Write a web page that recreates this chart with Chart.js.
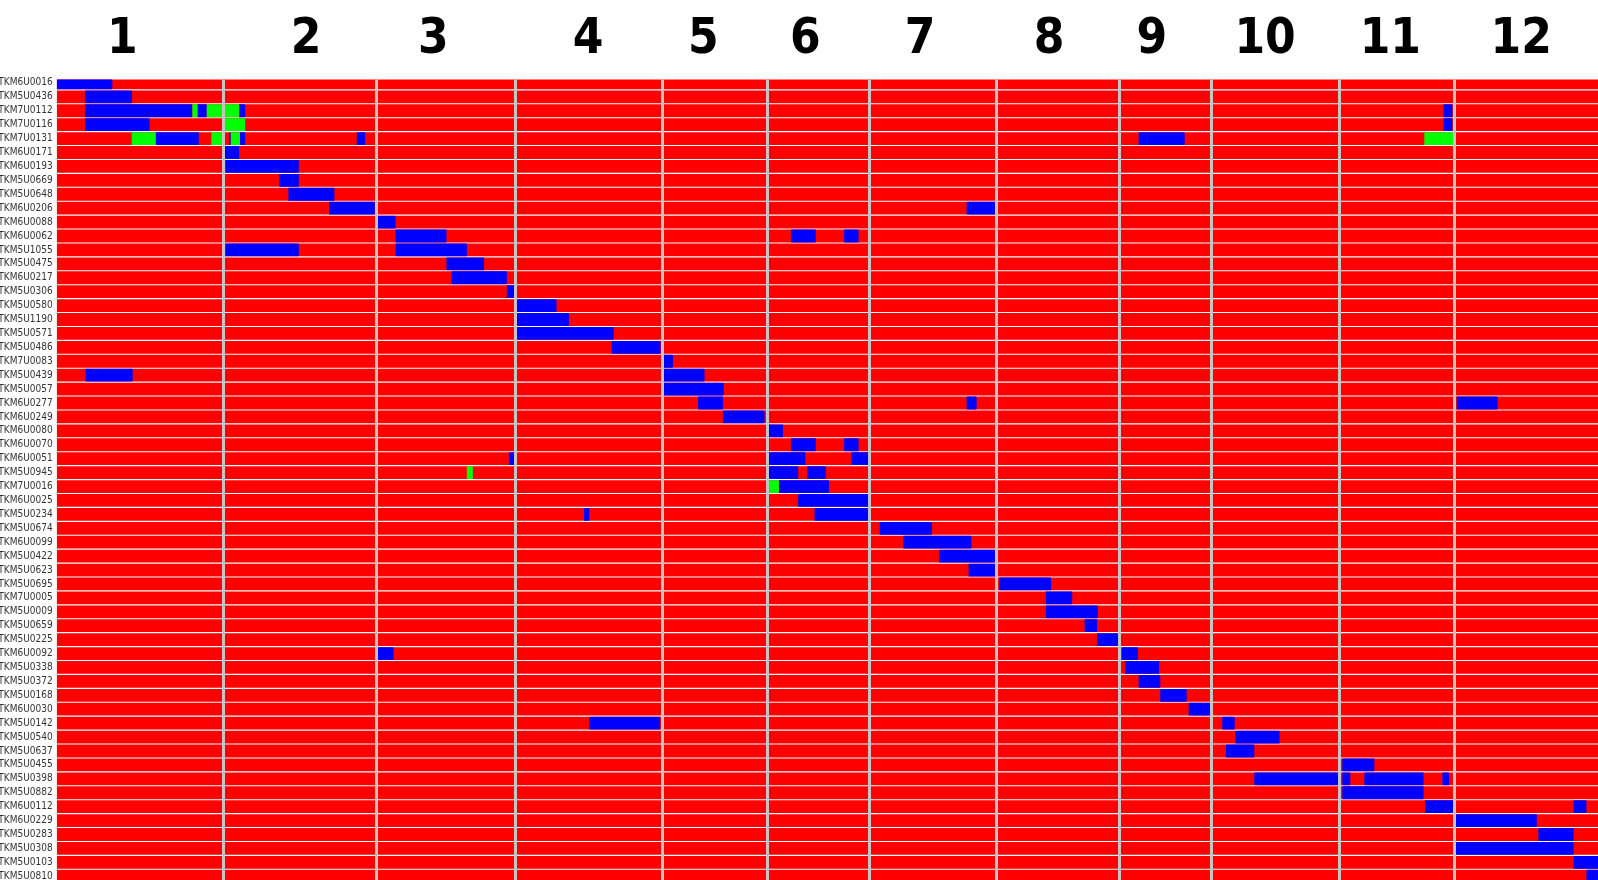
<!DOCTYPE html>
<html><head><meta charset="utf-8">
<script src="https://cdn.jsdelivr.net/npm/chart.js@4.4.1/dist/chart.umd.min.js"></script>
<style>html,body{margin:0;padding:0;background:#fff;} #wrap{width:1598px;height:880px;position:relative;}</style>
</head><body><div id="wrap"><canvas id="c"></canvas></div>
<script>
const lines = ['TKM6U0016','TKM5U0436','TKM7U0112','TKM7U0116','TKM7U0131','TKM6U0171','TKM6U0193','TKM5U0669','TKM5U0648','TKM6U0206',
'TKM6U0088','TKM6U0062','TKM5U1055','TKM5U0475','TKM6U0217','TKM5U0306','TKM5U0580','TKM5U1190','TKM5U0571','TKM5U0486',
'TKM7U0083','TKM5U0439','TKM5U0057','TKM6U0277','TKM6U0249','TKM6U0080','TKM6U0070','TKM6U0051','TKM5U0945','TKM7U0016',
'TKM6U0025','TKM5U0234','TKM5U0674','TKM6U0099','TKM5U0422','TKM5U0623','TKM5U0695','TKM7U0005','TKM5U0009','TKM5U0659',
'TKM5U0225','TKM6U0092','TKM5U0338','TKM5U0372','TKM5U0168','TKM6U0030','TKM5U0142','TKM5U0540','TKM5U0637','TKM5U0455',
'TKM5U0398','TKM5U0882','TKM6U0112','TKM6U0229','TKM5U0283','TKM5U0308','TKM5U0103','TKM5U0810'];
const chromNames = ['1','2','3','4','5','6','7','8','9','10','11','12'];
const chromLengths = [41.6, 38.2, 34.9, 36.7, 26.2, 25.5, 31.8, 30.8, 22.9, 32.1, 28.6, 35.9];
const chromLabelPos = [16.4, 62.3, 94.1, 132.8, 161.6, 187.1, 215.8, 248.0, 273.7, 302.0, 333.3, 366.0];
// [line number, start, end] on the concatenated genome axis
const blueSegments = [
[1,0,13.9],[2,7.1,18.8],
[3,7.1,33.9],[3,35.2,37.5],[3,45.6,47.1],[3,346.6,348.8],
[4,7.1,23.2],[4,346.6,348.8],
[5,24.75,35.5],[5,43.1,43.5],[5,45.8,47.1],[5,75,77.1],[5,270.4,281.9],
[6,42.0,45.6],[7,42.2,60.5],[8,55.6,60.5],[9,57.9,69.4],[10,68.1,79.5],[10,227.4,234.9],
[11,80.0,84.7],[12,84.7,97.4],[12,183.5,189.7],[12,196.8,200.4],[13,42.2,60.5],[13,84.7,102.5],
[14,97.4,106.8],[15,98.7,112.5],[16,112.5,114.5],[17,115.0,124.9],[18,115.0,128.0],[19,115.0,139.2],
[20,138.7,150.9],[21,151.6,154.0],[22,7.2,19.0],[22,151.6,161.9],[23,151.6,166.7],
[24,160.3,166.5],[24,227.4,229.9],[24,349.9,360.1],[25,166.5,176.9],[26,178.0,181.5],
[27,183.5,189.7],[27,196.8,200.4],[28,113.0,114.5],[28,178.0,187.1],[28,198.6,203.0],
[29,178.0,185.3],[29,187.6,192.2],[30,180.5,193.0],[31,185.3,203.0],[32,131.8,133.1],[32,189.4,203.0],
[33,205.7,218.7],[34,211.6,228.6],[35,220.5,234.9],[36,227.9,234.9],[37,235.6,248.5],[38,247.2,253.8],
[39,247.2,260.2],[40,256.9,260.0],[41,260.0,265.5],[42,80.2,84.2],[42,266.2,270.2],[43,267.0,275.5],
[44,270.4,275.8],[45,275.8,282.4],[46,282.9,288.4],[47,133.1,150.8],[47,291.3,294.4],[48,294.6,305.6],
[49,292.2,299.3],[50,321.3,329.3],[51,299.3,320.6],[51,321.3,323.3],[51,326.8,341.6],[51,346.3,348.0],
[52,321.3,341.6],[53,342.0,349.0],[53,379.1,382.3],[54,349.6,369.9],[55,370.3,379.1],[56,349.6,379.1],
[57,379.1,385.2],[58,382.3,385.2]];
const greenSegments = [
[3,33.9,35.2],[3,37.5,45.6],[4,42.0,47.1],
[5,18.75,24.75],[5,38.65,41.6],[5,43.5,45.8],[5,341.8,349.0],
[29,102.5,104.0],[30,178.0,180.5]];

const starts = []; let acc = 0;
chromLengths.forEach(l => { starts.push(acc); acc += l; });
const total = acc;
const boundaries = starts.slice(1);

const toPoints = segs => segs.map(([r, s, e]) => ({y: r, x: [s, e]}));
const common = {grouped: false, barPercentage: 0.92, categoryPercentage: 1, borderWidth: 0,
  borderSkipped: false, inflateAmount: 0, clip: 0};

new Chart(document.getElementById('c'), {
  type: 'bar',
  data: {
    datasets: [
      Object.assign({label: 'green', data: toPoints(greenSegments), backgroundColor: '#00ff00', order: 1}, common),
      Object.assign({label: 'blue', data: toPoints(blueSegments), backgroundColor: '#0000ff', order: 2}, common),
      Object.assign({label: 'red', data: lines.map((n, i) => ({y: i + 1, x: [0, total]})), backgroundColor: '#ff0000', order: 3}, common)
    ]
  },
  options: {
    indexAxis: 'y',
    responsive: true,
    maintainAspectRatio: false,
    animation: false,
    layout: {padding: 0, autoPadding: false},
    plugins: {legend: {display: false}, tooltip: {enabled: false}},
    scales: {
      x: {
        type: 'linear', position: 'bottom', min: 0, max: total, display: true, offset: false, beginAtZero: false,
        afterBuildTicks: s => { s.ticks = boundaries.map(v => ({value: v})); },
        afterFit: s => { s.height = 0; s.paddingLeft = 0; s.paddingRight = 0; },
        ticks: {display: false},
        border: {display: false},
        grid: {display: true, offset: false, drawTicks: false, color: '#c4c4c4', lineWidth: 3, z: 1}
      },
      x2: {
        type: 'linear', position: 'top', min: 0, max: total, offset: false,
        afterBuildTicks: s => { s.ticks = chromLabelPos.map(v => ({value: v})); },
        afterFit: s => { s.height = 79.5; s.paddingLeft = 0; s.paddingRight = 0; },
        ticks: {autoSkip: false, maxRotation: 0, padding: 10, color: '#000',
          font: {family: "'Liberation Sans Narrow', 'DejaVu Sans Condensed', sans-serif", size: 49, weight: 'bold'},
          callback: (v, i) => chromNames[i]},
        border: {display: false},
        grid: {display: false, drawTicks: false}
      },
      y: {
        type: 'linear', reverse: true, min: 0.756, max: 58.27, offset: false,
        afterBuildTicks: s => { s.ticks = lines.map((_, i) => ({value: i + 1})); },
        afterFit: s => { s.width = 56.7; s.paddingTop = 0; s.paddingBottom = 0; },
        ticks: {autoSkip: false, padding: 4, color: '#333',
          font: {family: "'Liberation Sans Narrow', 'DejaVu Sans Condensed', sans-serif", size: 10},
          callback: v => lines[Math.round(v) - 1] || ''},
        border: {display: false},
        grid: {display: false, offset: false, drawTicks: false}
      }
    }
  }
});
</script></body></html>
